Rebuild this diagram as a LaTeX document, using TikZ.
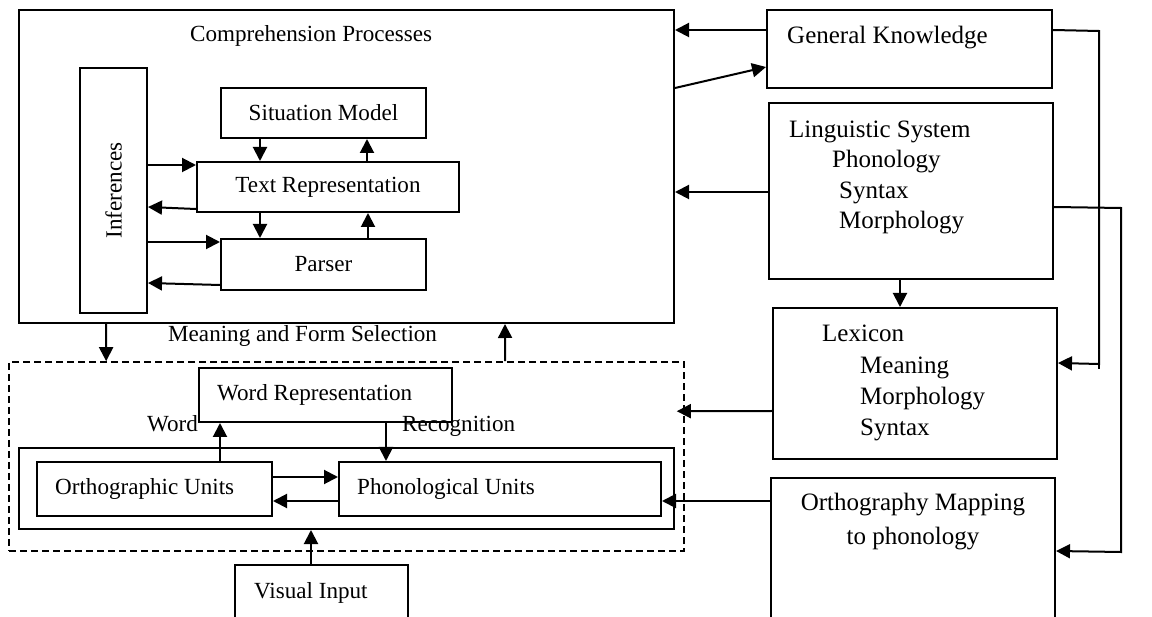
\documentclass[tikz,border=0pt]{standalone}
\usepackage{fontspec}
\setmainfont{Liberation Serif}
\usetikzlibrary{arrows.meta}
\begin{document}
\begin{tikzpicture}[x=1pt,y=-1pt,
  box/.style 2 args={draw,line width=2pt,inner sep=0pt,minimum width=#1,minimum height=#2},
  dbox/.style 2 args={draw,line width=1.6pt,dash pattern=on 7pt off 4pt,inner sep=0pt,minimum width=#1,minimum height=#2},
  sf/.style={font=\fontsize{23.1}{28}\selectfont},
  lf/.style={font=\fontsize{25}{30}\selectfont},
  lt/.style={anchor=base west,inner sep=0pt,sf},
  rt/.style={anchor=base west,inner sep=0pt,lf},
  arr/.style={line width=2pt,-{Triangle[length=14pt,width=14pt]}},
  wire/.style={line width=2pt}]
\useasboundingbox (0,0) rectangle (1152,617);

% comprehension processes
\node[box={655pt}{313pt}] (CP) at (346.5,166.5) {};
\node[lt] (CPt) at (190,41.5) {Comprehension Processes};
\node[box={67pt}{245pt}] (Inf) at (113.5,190.5) {};
\node[sf,rotate=90,inner sep=0pt] (Inft) at (Inf.center) {Inferences};
\node[box={205pt}{50pt},sf] (SM) at (323.5,113) {Situation Model};
\node[box={262pt}{50pt},sf] (TR) at (328,187) {Text Representation};
\node[box={205pt}{51pt},sf] (Parser) at (323.5,264.5) {Parser};

\draw[arr] ([xshift=40pt]SM.south west) -- ([xshift=64pt]TR.north west);
\draw[arr] ([xshift=171pt]TR.north west) -- ([xshift=147pt]SM.south west);
\draw[arr] ([xshift=64pt]TR.south west) -- ([xshift=40pt]Parser.north west);
\draw[arr] ([xshift=148pt]Parser.north west) -- ([xshift=172pt]TR.south west);
\draw[arr] ([yshift=-98pt]Inf.north east) -- ([yshift=-4pt]TR.north west);
\draw[arr] ([yshift=4pt]TR.south west) -- ([yshift=-140pt]Inf.north east);
\draw[arr] ([yshift=-175pt]Inf.north east) -- ([yshift=-4pt]Parser.north west);
\draw[arr] ([yshift=6pt]Parser.south west) -- ([yshift=-216pt]Inf.north east);

% knowledge sources
\node[box={285pt}{78pt}] (GK) at (909.5,49) {};
\node[rt] (GKt) at (787,44) {General Knowledge};
\node[box={284pt}{176pt}] (LS) at (911,191) {};
\node[rt] (LS1) at (789,137.5) {Linguistic System};
\node[rt] (LS2) at (832,168) {Phonology};
\node[rt] (LS3) at (839,199) {Syntax};
\node[rt] (LS4) at (839,229) {Morphology};
\node[box={284pt}{151pt}] (Lex) at (915,383.5) {};
\node[rt] (Lex1) at (822,342) {Lexicon};
\node[rt] (Lex2) at (860,374) {Meaning};
\node[rt] (Lex3) at (860,405) {Morphology};
\node[rt] (Lex4) at (860,436) {Syntax};
\node[box={284pt}{147pt}] (OM) at (913,551.5) {};
\node[rt,anchor=base] (OM1) at (913,511) {Orthography Mapping};
\node[rt,anchor=base] (OM2) at (913,544) {to phonology};

\draw[arr] ([yshift=-21pt]GK.north west) -- ([yshift=-21pt]CP.north east);
\draw[arr] ([yshift=-79pt]CP.north east) -- ([yshift=-58pt]GK.north west);
\draw[arr] ([yshift=-90pt]LS.north west) -- ([yshift=-183pt]CP.north east);
\draw[arr] ([xshift=132pt]LS.south west) -- ([xshift=128pt]Lex.north west);
\coordinate (g1) at (1099,31);
\coordinate (g2) at (1099,364);
\coordinate (g3) at (1099,369);
\draw[wire] (g2) -- (g3);
\draw[arr] ([yshift=-21pt]GK.north east) -- (g1) -- (g2) -- ([yshift=-56pt]Lex.north east);
\coordinate (l1) at (1121,208);
\coordinate (l2) at (1121,552);
\draw[arr] ([yshift=-105pt]LS.north east) -- (l1) -- (l2) -- ([yshift=-74pt]OM.north east);

% word recognition
\node[dbox={675pt}{189pt}] (Sel) at (346.5,456.5) {};
\node[lt] (Selt) at (168,342) {Meaning and Form Selection};
\node[box={253pt}{54pt}] (WR) at (325.5,395) {};
\node[lt] (WRt) at (217,401) {Word Representation};
\node[lt] (Wd) at (147,432) {Word};
\node[lt] (Rc) at (402,432) {Recognition};
\node[box={655pt}{81pt}] (Units) at (346.5,488.5) {};
\node[box={235pt}{54pt}] (Ortho) at (154.5,489) {};
\node[lt] (Orthot) at (55,494.5) {Orthographic Units};
\node[box={322pt}{54pt}] (Phon) at (500,489) {};
\node[lt] (Phont) at (357,494.5) {Phonological Units};
\node[box={173pt}{60pt}] (VI) at (321.5,595) {};
\node[lt] (VIt) at (254,598) {Visual Input};

\draw[arr] ([xshift=88pt]CP.south west) -- ([xshift=98pt]Sel.north west);
\draw[arr] ([xshift=497pt]Sel.north west) -- ([xshift=487pt]CP.south west);
\draw[arr] ([yshift=-104pt]Lex.north west) -- ([xshift=-8pt,yshift=-50pt]Sel.north east);
\draw[arr] ([yshift=-24pt]OM.north west) -- ([yshift=-40pt]Phon.north east);
\draw[arr] ([xshift=184pt]Ortho.north west) -- ([xshift=22pt]WR.south west);
\draw[arr] ([xshift=188pt]WR.south west) -- ([xshift=48pt]Phon.north west);
\draw[arr] ([yshift=-16pt]Ortho.north east) -- ([yshift=-16pt]Phon.north west);
\draw[arr] ([yshift=-40pt]Phon.north west) -- ([yshift=-40pt]Ortho.north east);
\draw[arr] ([xshift=77pt]VI.north west) -- ([xshift=293pt]Units.south west);
\end{tikzpicture}
\end{document}
